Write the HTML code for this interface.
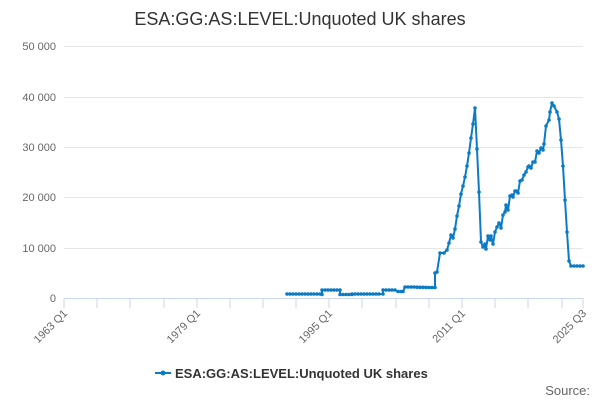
<!DOCTYPE html>
<html><head><meta charset="utf-8"><style>
body{margin:0;background:#fff;font-family:"Liberation Sans",sans-serif}
</style></head><body>
<svg width="600" height="400" xmlns="http://www.w3.org/2000/svg" font-family="Liberation Sans, sans-serif">
<defs><marker id="m" markerWidth="4" markerHeight="4" refX="2" refY="2" markerUnits="userSpaceOnUse"><circle cx="2" cy="2" r="1.8" fill="#0a7bc4"/></marker></defs>
<rect width="600" height="400" fill="#fff"/>
<text x="300" y="25" text-anchor="middle" font-size="18" fill="#333">ESA:GG:AS:LEVEL:Unquoted UK shares</text>
<g stroke="#e6e6e6" stroke-width="1">
<line x1="64" x2="583" y1="46.5" y2="46.5"/><line x1="64" x2="583" y1="97.5" y2="97.5"/>
<line x1="64" x2="583" y1="147.5" y2="147.5"/><line x1="64" x2="583" y1="197.5" y2="197.5"/>
<line x1="64" x2="583" y1="248.5" y2="248.5"/>
</g>
<line x1="64" x2="583" y1="298.5" y2="298.5" stroke="#ccd6eb"/>
<g stroke="#ccd6eb">
<line x1="64" x2="64" y1="298" y2="308"/><line x1="97" x2="97" y1="298" y2="308"/><line x1="130" x2="130" y1="298" y2="308"/><line x1="164" x2="164" y1="298" y2="308"/><line x1="197" x2="197" y1="298" y2="308"/><line x1="230" x2="230" y1="298" y2="308"/><line x1="263" x2="263" y1="298" y2="308"/><line x1="296" x2="296" y1="298" y2="308"/><line x1="329" x2="329" y1="298" y2="308"/><line x1="362" x2="362" y1="298" y2="308"/><line x1="396" x2="396" y1="298" y2="308"/><line x1="429" x2="429" y1="298" y2="308"/><line x1="462" x2="462" y1="298" y2="308"/><line x1="495" x2="495" y1="298" y2="308"/><line x1="528" x2="528" y1="298" y2="308"/><line x1="562" x2="562" y1="298" y2="308"/><line x1="583" x2="583" y1="298" y2="308"/>
</g>
<g font-size="11" fill="#666" text-anchor="end">
<text x="56" y="50">50 000</text><text x="56" y="101">40 000</text><text x="56" y="151">30 000</text>
<text x="56" y="201">20 000</text><text x="56" y="252">10 000</text><text x="56" y="302">0</text>
</g>
<g font-size="11" fill="#666" text-anchor="end">
<text transform="translate(68,314) rotate(-45)">1963 Q1</text>
<text transform="translate(201,314) rotate(-45)">1979 Q1</text>
<text transform="translate(333,314) rotate(-45)">1995 Q1</text>
<text transform="translate(466,314) rotate(-45)">2011 Q1</text>
<text transform="translate(587,314) rotate(-45)">2025 Q3</text>
</g>
<polyline fill="none" stroke="#0a7bc4" stroke-width="2" stroke-linejoin="round" marker-start="url(#m)" marker-mid="url(#m)" marker-end="url(#m)" points="287,294 290,294 293,294 296,294 299,294 302,294 305,294 308,294 311,294 314,294 317,294 320,294 322,294.5 322,290 325,290 328,290 331,290 334,290 337,290 340,290 340,294.5 343,294.5 346,294.5 349,294.5 352,294.5 352,294 355,294 358,294 361,294 364,294 367,294 370,294 373,294 376,294 379,294 383,294 383,290 386,290 389,290 392,290 395,290 398,291.5 401,291.5 403,291.5 405,287 408,287 411,287 414,287 417,287.2 420,287.3 423,287.3 426,287.4 429,287.5 432,287.5 435,287.5 435,273 437,272 440,253 444,253 447,250 449,243 451,235 453,238 455,229 457,216 459,206 461,194 463,186 465,177 467,166 469,153 471,138 473,124 475,108 477,149 479,192 481,242 483,247 485,244 486,249 488,236 490,240 491,236 493,244 495,232 497,227 499,223 501,228 503,215 505,212 506,205 508,210 510,196 512,195 513,197 515,191 516,191 518,193 520,181 522,180 524,175 526,172 528,167 529,166 531,168 533,162 535,162 537,151 539,153 541,148 543,150 544,144 546,126 549,120 550,112 552,103 554,106 557,112 559,119 561,140 563,166 565,200 567,232 569,261 571,266 574,266 577,266 580,266 583,266"/>
<line x1="155" x2="171" y1="373" y2="373" stroke="#0a7bc4" stroke-width="2"/>
<circle cx="163" cy="373" r="2.5" fill="#0a7bc4"/>
<text x="175" y="378" font-size="13" font-weight="bold" fill="#333">ESA:GG:AS:LEVEL:Unquoted UK shares</text>
<text x="590" y="395" text-anchor="end" font-size="13" fill="#666">Source:</text>
</svg>
</body></html>
